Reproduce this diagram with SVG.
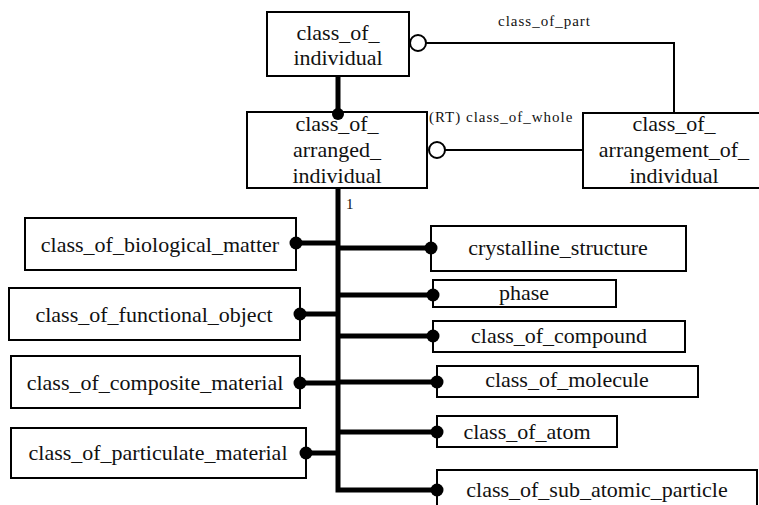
<svg xmlns="http://www.w3.org/2000/svg" width="759" height="505" viewBox="0 0 759 505">
<style>
.box{fill:#fff;stroke:#000;stroke-width:2}
.t{font-family:"Liberation Serif","DejaVu Serif",serif;font-size:22px;text-anchor:middle;fill:#111}
.s{font-family:"Liberation Serif","DejaVu Serif",serif;font-size:15px;letter-spacing:1px;fill:#111}
.thick{stroke:#000;stroke-width:5;fill:none}
.thin{stroke:#000;stroke-width:2;fill:none}
.dot{fill:#000}
.oc{fill:#fff;stroke:#000;stroke-width:2}
</style>
<rect width="759" height="505" fill="#fff"/>
<g id="class_of_individual"><rect class="box" x="267" y="12" width="142" height="64"/><text class="t" x="338" y="40">class_of_</text><text class="t" x="338" y="65">individual</text></g>
<g id="class_of_arranged_individual"><rect class="box" x="247" y="112" width="180" height="76"/><text class="t" x="337" y="131">class_of_</text><text class="t" x="337" y="157">arranged_</text><text class="t" x="337" y="183">individual</text></g>
<g id="class_of_arrangement_of_individual"><rect class="box" x="583" y="113" width="182" height="75"/><text class="t" x="674" y="131">class_of_</text><text class="t" x="674" y="157">arrangement_of_</text><text class="t" x="674" y="183">individual</text></g>
<g id="class_of_biological_matter"><rect class="box" x="25" y="218" width="271" height="52"/><text class="t" x="160" y="252">class_of_biological_matter</text></g>
<g id="class_of_functional_object"><rect class="box" x="9" y="288" width="291" height="52"/><text class="t" x="154" y="322">class_of_functional_object</text></g>
<g id="class_of_composite_material"><rect class="box" x="11" y="356" width="289" height="52"/><text class="t" x="155" y="390">class_of_composite_material</text></g>
<g id="class_of_particulate_material"><rect class="box" x="11" y="428" width="295" height="50"/><text class="t" x="158" y="460">class_of_particulate_material</text></g>
<g id="crystalline_structure"><rect class="box" x="431" y="226" width="255" height="45"/><text class="t" x="558" y="255">crystalline_structure</text></g>
<g id="phase"><rect class="box" x="433" y="280" width="183" height="27"/><text class="t" x="524" y="300">phase</text></g>
<g id="class_of_compound"><rect class="box" x="433" y="321" width="252" height="31"/><text class="t" x="559" y="343">class_of_compound</text></g>
<g id="class_of_molecule"><rect class="box" x="437" y="366" width="261" height="31"/><text class="t" x="567" y="387">class_of_molecule</text></g>
<g id="class_of_atom"><rect class="box" x="437" y="416" width="180" height="31"/><text class="t" x="527" y="439">class_of_atom</text></g>
<g id="class_of_sub_atomic_particle"><rect class="box" x="437" y="470" width="320" height="45"/><text class="t" x="597" y="497">class_of_sub_atomic_particle</text></g>
<g id="connectors">
<path class="thick" d="M338 76V112"/>
<path class="thick" d="M338 188V490H437"/>
<path class="thick" d="M296 243H338M300 314H338M300 383H338M306 453H338"/>
<path class="thick" d="M338 248H431M338 295H433M338 336H433M338 382H437M338 432H437"/>
<path class="thin" d="M426 43H674V113"/>
<path class="thin" d="M445 150H583"/>
<circle class="oc" cx="418" cy="43" r="8"/>
<circle class="oc" cx="437" cy="150" r="8"/>
<circle class="dot" cx="338" cy="114" r="6"/>
<circle class="dot" cx="296" cy="243" r="6.5"/>
<circle class="dot" cx="300" cy="314" r="6.5"/>
<circle class="dot" cx="300" cy="383" r="6.5"/>
<circle class="dot" cx="306" cy="453" r="6.5"/>
<circle class="dot" cx="431" cy="248" r="6.5"/>
<circle class="dot" cx="433" cy="295" r="6.5"/>
<circle class="dot" cx="433" cy="336" r="6.5"/>
<circle class="dot" cx="437" cy="382" r="6.5"/>
<circle class="dot" cx="437" cy="432" r="6.5"/>
<circle class="dot" cx="437" cy="490" r="6.5"/>
<text class="s" x="498" y="26">class_of_part</text>
<text class="s" x="429" y="122">(RT) class_of_whole</text>
<text class="s" x="346" y="209">1</text>
</g>
</svg>
